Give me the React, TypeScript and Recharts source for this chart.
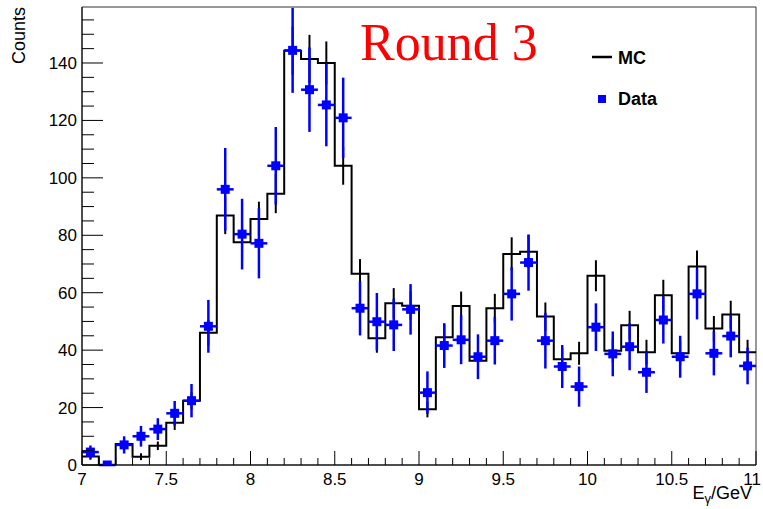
import { ComposedChart, Line, Scatter, ErrorBar, XAxis, YAxis, ReferenceArea } from 'recharts';

// histogram binning: 40 bins of 0.1 GeV from 7 to 11
const BIN_LOW = 7.0;
const BIN_WIDTH = 0.1;

// MC histogram contents
const MC = [3, 0, 7.3, 2.9, 6.7, 14.7, 22.4, 46.1, 86.9, 77.6, 85.7, 94.5, 144.3, 141.4, 140, 104.2,
  66.6, 44.1, 56.3, 55.5, 19.4, 44.5, 55.4, 36.3, 54.6, 73.5, 74.3, 51.7, 36.8, 38.9,
  65.9, 39.8, 48.7, 39.3, 59.1, 38.9, 69.1, 47.5, 52.4, 39.3];
const MC_ERR = [1.2, 0, 1.8, 1.2, 1.5, 2.5, 3, 4.5, 6.5, 6, 6, 6.8, 8.4, 8.4, 7.5, 6.6,
  5.1, 5, 5.3, 5, 2.8, 4.5, 5, 4.2, 5, 5.8, 5.8, 4.9, 4.2, 4,
  5.4, 4.3, 5, 4.3, 5.4, 4.3, 5.6, 4.4, 4.8, 4.3];

// data points
const DATA = [4.5, 0, 7, 10, 12.5, 18, 22.4, 48.3, 96, 80.4, 77.2, 104.2, 144.4, 130.7, 125.4, 120.9,
  54.6, 49.9, 48.8, 54.2, 25.2, 41.6, 43.6, 37.7, 43.3, 59.6, 70.5, 43.3, 34.3, 27.3,
  48, 38.7, 41.2, 32.3, 50.5, 37.7, 59.6, 38.9, 44.9, 34.5];
const DATA_ERR = [2.3, 0, 3, 3.6, 3.8, 4.3, 5.8, 9.2, 14.4, 12.3, 12.2, 13.5, 14.8, 14.7, 14.4, 14,
  9.5, 10, 9.1, 8.8, 7.4, 7.8, 8.5, 7.8, 8.3, 9.3, 9.8, 9.7, 7.5, 7,
  8.3, 7.8, 8.2, 7.2, 8.2, 7.3, 8.9, 7.7, 7.4, 6.4];

const X_MAJOR = [7, 7.5, 8, 8.5, 9, 9.5, 10, 10.5, 11];
const Y_MAJOR = [0, 20, 40, 60, 80, 100, 120, 140];
const Y_MAX = 159.5;

const W = 763;
const H = 509;
const FONT = '"Liberation Sans", Arial, Helvetica, sans-serif';

const round = (v: number) => Math.round(v * 100) / 100;

// bin edges -> step line (last edge repeats last bin)
const histLine = MC.map((v, i) => ({ x: round(BIN_LOW + i * BIN_WIDTH), mc: v }));
histLine.push({ x: round(BIN_LOW + MC.length * BIN_WIDTH), mc: MC[MC.length - 1] });

const mcPoints = MC.map((v, i) => ({ x: round(BIN_LOW + (i + 0.5) * BIN_WIDTH), y: v, ey: MC_ERR[i] }));
const dataPoints = DATA.map((v, i) => ({
  x: round(BIN_LOW + (i + 0.5) * BIN_WIDTH),
  y: v,
  ey: DATA_ERR[i],
  ex: BIN_WIDTH / 2,
}));

// minor ticks: 4 between each x major, every 5 counts on y
const xTicks: number[] = [];
X_MAJOR.forEach((m, i) => {
  xTicks.push(m);
  if (i < X_MAJOR.length - 1) for (let k = 1; k < 5; k++) xTicks.push(round(m + k * 0.1));
});
const yTicks: number[] = [];
for (let v = 0; v < Y_MAX; v += 5) yTicks.push(v);

const XTick = (props: any) => {
  const { x, y, payload } = props;
  const v = payload.value;
  const major = X_MAJOR.some((m) => Math.abs(m - v) < 1e-6);
  const last = Math.abs(v - X_MAJOR[X_MAJOR.length - 1]) < 1e-6;
  return (
    <g>
      <line x1={x} x2={x} y1={y} y2={y - (major ? 14 : 7)} stroke="#000" strokeWidth={1} />
      {major && (
        <text
          x={last ? x + 5 : x}
          y={y + 20}
          textAnchor={last ? 'end' : 'middle'}
          fontFamily={FONT}
          fontSize={17}
          fill="#000"
        >
          {String(v)}
        </text>
      )}
    </g>
  );
};

const YTick = (props: any) => {
  const { x, y, payload } = props;
  const v = payload.value;
  const major = Y_MAJOR.includes(v);
  return (
    <g>
      <line x1={x} x2={x + (major ? 21 : 12)} y1={y} y2={y} stroke="#000" strokeWidth={1} />
      {major && (
        <text x={x - 5} y={y + 6} textAnchor="end" fontFamily={FONT} fontSize={17} fill="#000">
          {String(v)}
        </text>
      )}
    </g>
  );
};

const NoShape = () => <g />;

const Square = (props: any) => {
  const { cx, cy } = props;
  return <rect x={cx - 4.5} y={cy - 4.5} width={9} height={9} fill="#0000ff" />;
};

export default function App() {
  return (
    <div style={{ position: 'absolute', left: 0, top: 0, width: W, height: H, background: '#fff' }}>
      <ComposedChart
        width={W}
        height={H}
        margin={{ top: 7, right: 7, left: 0, bottom: 0 }}
      >
        <XAxis
          type="number"
          dataKey="x"
          domain={[7, 11]}
          ticks={xTicks}
          interval={0}
          allowDataOverflow
          height={44}
          tickSize={0}
          tickMargin={0}
          tickLine={false}
          axisLine={{ stroke: '#000' }}
          tick={<XTick />}
        />
        <YAxis
          type="number"
          domain={[0, Y_MAX]}
          ticks={yTicks}
          interval={0}
          allowDataOverflow
          width={82}
          tickSize={0}
          tickMargin={0}
          tickLine={false}
          axisLine={{ stroke: '#000' }}
          tick={<YTick />}
        />
        <ReferenceArea x1={7} x2={11} y1={0} y2={Y_MAX} fill="none" stroke="#333" strokeWidth={1} />
        <Line
          data={histLine}
          dataKey="mc"
          type="stepAfter"
          stroke="#000"
          strokeWidth={2}
          dot={false}
          isAnimationActive={false}
        />
        <Scatter data={mcPoints} dataKey="y" shape={NoShape} isAnimationActive={false}>
          <ErrorBar dataKey="ey" direction="y" width={0} stroke="#000" strokeWidth={2} />
        </Scatter>
        <Scatter data={dataPoints} dataKey="y" shape={Square} isAnimationActive={false}>
          <ErrorBar dataKey="ey" direction="y" width={0} stroke="#0000ff" strokeWidth={2.5} />
          <ErrorBar dataKey="ex" direction="x" width={0} stroke="#0000ff" strokeWidth={2.5} />
        </Scatter>
      </ComposedChart>
      <svg width={W} height={H} style={{ position: 'absolute', left: 0, top: 0, pointerEvents: 'none' }}>
        <text x={25} y={7} transform="rotate(-90 25 7)" textAnchor="end" fontFamily={FONT} fontSize={18}>
          Counts
        </text>
        <text x={752} y={499} textAnchor="end" fontFamily={FONT} fontSize={18}>
          E<tspan fontSize={13} dy={4}>γ</tspan>
          <tspan dy={-4}>/GeV</tspan>
        </text>
        <text x={360} y={60} fontFamily='"Liberation Serif", "Times New Roman", serif' fontSize={52} fill="#ff0000">
          Round 3
        </text>
        <line x1={592} x2={612} y1={57} y2={57} stroke="#000" strokeWidth={2.5} />
        <text x={618} y={64} fontFamily={FONT} fontSize={18} fontWeight="bold">MC</text>
        <rect x={598} y={95} width={8} height={8} fill="#0000ff" />
        <text x={618} y={105} fontFamily={FONT} fontSize={18} fontWeight="bold">Data</text>
      </svg>
    </div>
  );
}
